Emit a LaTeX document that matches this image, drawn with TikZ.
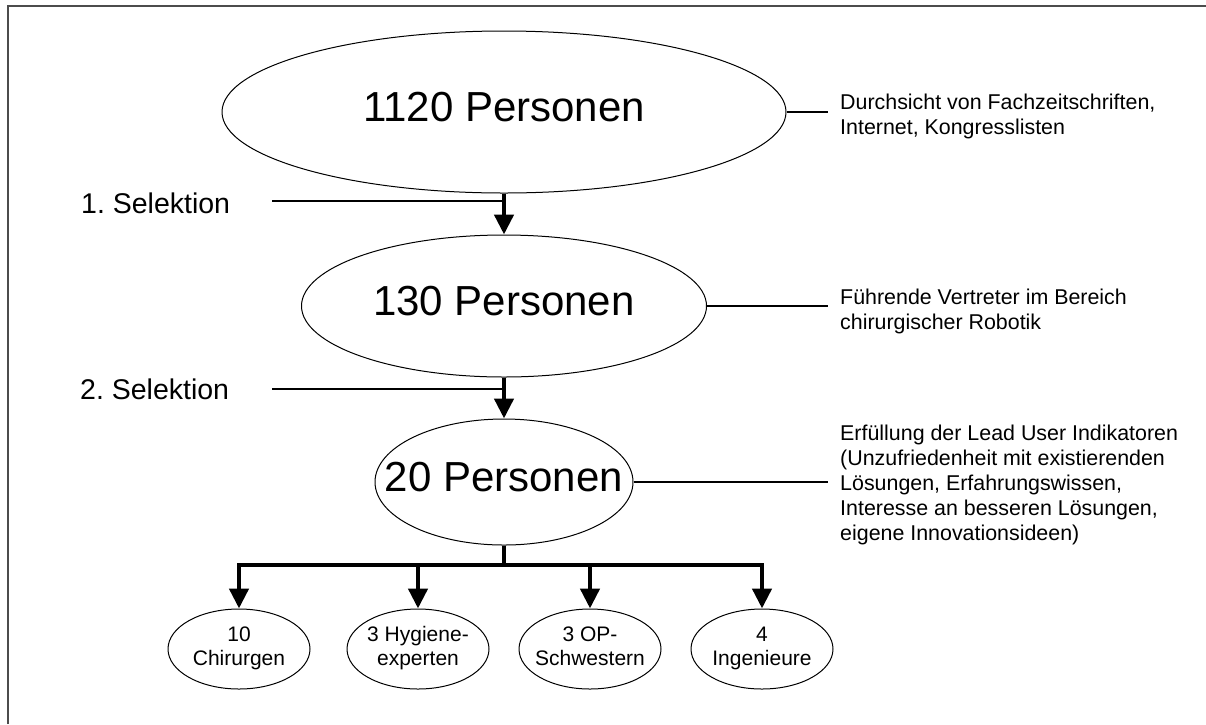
\documentclass[tikz,border=0pt]{standalone}
\usepackage{fontspec}
\setmainfont{Liberation Sans}
\usetikzlibrary{shapes.geometric,arrows.meta}
\frenchspacing

\newcommand{\inell}[1]{\makebox[0pt]{\begin{tabular}{@{}c@{}}#1\end{tabular}}}

\tikzset{
	pers/.style={ellipse, draw, line width=1pt, inner sep=0pt, font=\fontsize{42}{48}\selectfont},
	group/.style={ellipse, draw, line width=1pt, inner sep=0pt, minimum width=142pt, minimum height=80pt, font=\fontsize{21}{24}\selectfont},
	note/.style={anchor=west, align=left, inner xsep=12pt, inner ysep=0pt, font=\fontsize{21.4}{25}\selectfont},
	sel/.style={anchor=west, inner sep=0pt, font=\fontsize{28.5}{34}\selectfont},
	link/.style={line width=1.2pt},
	flow/.style={line width=4.5pt, -{Triangle[width=19pt,length=20pt]}},
}

\begin{document}
\begin{tikzpicture}[x=1pt, y=-1pt]
				\useasboundingbox (0,0) rectangle (1206,724);
				\draw[black!70, line width=2pt] (8,724) -- (8,6) -- (1206,6);

				% Personen
				\node[pers, minimum width=564pt, minimum height=162pt] (e1) at (504,112) {\inell{1120 Personen}};
				\node[pers, minimum width=405pt, minimum height=142pt] (e2) at (504,306) {\inell{130 Personen}};
				\node[pers, minimum width=258pt, minimum height=126pt] (e3) at (504,482) {\inell{20 Personen}};

				\node[group] (k1) at (239,649) {\inell{10\\Chirurgen}};
				\node[group] (k2) at (418,649) {\inell{3 Hygiene-\\experten}};
				\node[group] (k3) at (590,649) {\inell{3 OP-\\Schwestern}};
				\node[group] (k4) at (762,649) {\inell{4\\Ingenieure}};

				% Erklaerungen
				\node[note] (d1) at (828,116.5) {Durchsicht von Fachzeitschriften,\\Internet, Kongresslisten};
				\node[note] (d2) at (828,311) {Führende Vertreter im Bereich\\chirurgischer Robotik};
				\node[note] (d3) at (828,485) {Erfüllung der Lead User Indikatoren\\(Unzufriedenheit mit existierenden\\Lösungen, Erfahrungswissen,\\Interesse an besseren Lösungen,\\eigene Innovationsideen)};

				\node[sel] (s1) at (81,203) {1. Selektion};
				\node[sel] (s2) at (80,389) {2. Selektion};
				\coordinate (c1) at (272,201);
				\coordinate (c2) at (272,389);
				\coordinate (fork) at (504,565);

				\draw[flow] (e1.south) -- (e2.north);
				\draw[flow] (e2.south) -- (e3.north);
				\draw[link] (c1) -- (c1 -| e1.south);
				\draw[link] (c2) -- (c2 -| e2.south);

				\draw[link] (e1.east) -- (e1.east -| d1.west);
				\draw[link] (e2.east) -- (e2.east -| d2.west);
				\draw[link] (e3.east) -- (e3.east -| d3.west);

				\draw[line width=4.5pt] (e3.south) -- (fork);
				\draw[line width=4.5pt, line cap=rect] (fork -| k1.north) -- (fork -| k4.north);
				\foreach \k in {k1,k2,k3,k4}
					\draw[flow] (fork -| \k.north) -- (\k.north);
\end{tikzpicture}
\end{document}
